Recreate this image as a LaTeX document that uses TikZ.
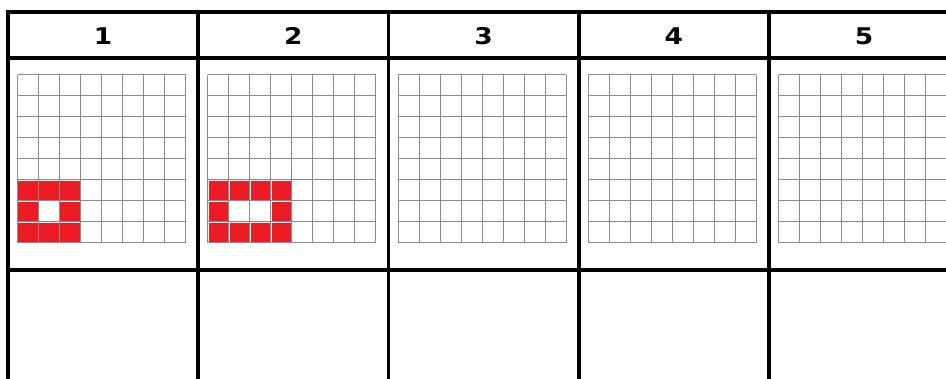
\documentclass[tikz,border=0pt]{standalone}
\usepackage{fontspec}
\newfontfamily\headfont{DejaVu Sans}
\usepackage{tikz}
\usetikzlibrary{positioning}
\definecolor{ruleblack}{HTML}{000000}
\definecolor{gridgray}{HTML}{8C8C8C}
\definecolor{cellred}{HTML}{ED1C24}
\tikzset{
  head_cell/.style={inner sep=0pt,font=\headfont\bfseries\fontsize{23}{26}\selectfont},
  table_line/.style={draw=ruleblack,line width=3.8pt},
  grid_line/.style={draw=gridgray,line width=1pt},
  red_cell/.style={fill=cellred,draw=none},
}

\begin{document}
\begin{tikzpicture}[x=1pt,y=-1pt]
  \useasboundingbox (0,0) rectangle (946,379);
  \fill[white] (0,0) rectangle (946,379);
  % red squares first, grids go on top
  \foreach \cx/\ry/\col in {0/5/0,0/5/1,0/5/2,0/6/0,0/6/2,0/7/0,0/7/1,0/7/2,
                           1/5/0,1/5/1,1/5/2,1/5/3,1/6/0,1/6/3,1/7/0,1/7/1,1/7/2,1/7/3}
    \fill[red_cell] ({8+190.25*\cx+9.5+21*\col+0.8},{75+21*\ry+0.8}) rectangle ++(19.4,19.4);
  % the five columns
  \foreach \cx/\lab in {0/1,1/2,2/3,3/4,4/5}{
    \node[head_cell] (h\lab) at ({8+190.25*\cx+95.1},36) {\scalebox{1.15}[1]{\lab}};
    \foreach \k in {0,...,8}{
      \draw[grid_line] ({8+190.25*\cx+9.5+21*\k},75) -- ++(0,168);
      \draw[grid_line] ({8+190.25*\cx+9.5},{75+21*\k}) -- ++(168,0);
    }
  }
  % table rules
  \foreach \yy in {12,58,270}
    \draw[table_line] (8,\yy) -- (946,\yy);
  \foreach \cx in {0,...,4}
    \draw[table_line] ({8+190.25*\cx},10.1) -- ({8+190.25*\cx},379);
\end{tikzpicture}
\end{document}
